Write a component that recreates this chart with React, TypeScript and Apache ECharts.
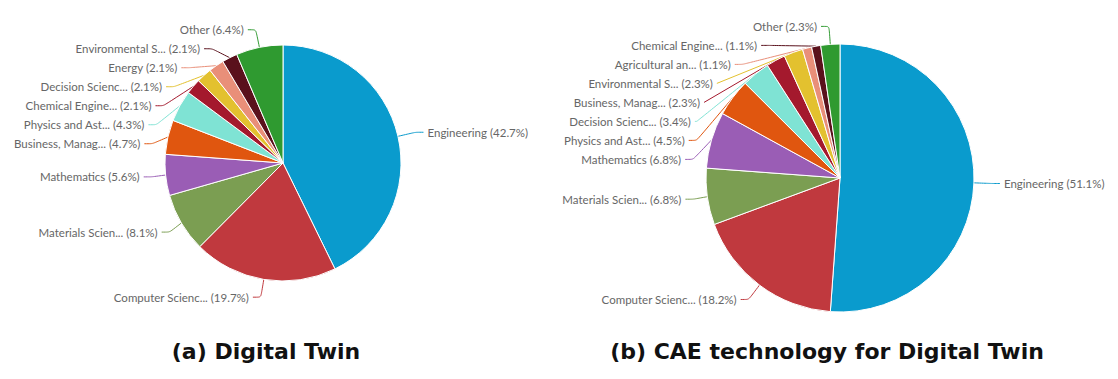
import React, { useEffect, useRef } from "react";
import * as echarts from "echarts";

const leftNames = [
  "Engineering",
  "Computer Scienc...",
  "Materials Scien...",
  "Mathematics",
  "Business, Manag...",
  "Physics and Ast...",
  "Chemical Engine...",
  "Decision Scienc...",
  "Energy",
  "Environmental S...",
  "Other",
];
const leftValues = [42.7, 19.7, 8.1, 5.6, 4.7, 4.3, 2.1, 2.1, 2.1, 2.1, 6.4];

const rightNames = [
  "Engineering",
  "Computer Scienc...",
  "Materials Scien...",
  "Mathematics",
  "Physics and Ast...",
  "Decision Scienc...",
  "Business, Manag...",
  "Environmental S...",
  "Agricultural an...",
  "Chemical Engine...",
  "Other",
];
const rightValues = [51.1, 18.2, 6.8, 6.8, 4.5, 3.4, 2.3, 2.3, 1.1, 1.1, 2.3];

const palette = [
  "#0a9bcd",
  "#c0393e",
  "#7b9e52",
  "#9a5db5",
  "#e0560f",
  "#7fe3d4",
  "#a4192d",
  "#e3c12f",
  "#e98f79",
  "#5a111c",
  "#2f9a30",
];

const titles = ["(a) Digital Twin", "(b) CAE technology for Digital Twin"];

function makeSeries(names: string[], values: number[], center: [number, number], radius: number) {
  return {
    type: "pie",
    center,
    radius,
    startAngle: 90,
    clockwise: true,
    avoidLabelOverlap: true,
    labelLayout: { hideOverlap: false },
    data: names.map((n, i) => ({
      name: n,
      value: values[i],
      itemStyle: { color: palette[i % palette.length] },
      labelLine: { lineStyle: { color: palette[i % palette.length] } },
    })),
    itemStyle: { borderColor: "#ffffff", borderWidth: 1 },
    label: {
      formatter: (p: any) => `${p.name} (${p.value.toFixed(1)}%)`,
      fontFamily: "Lato",
      fontSize: 11.5,
      color: "#666666",
      lineHeight: 17,
      overflow: "none",
      distanceToLabelLine: 4,
    },
    labelLine: { show: true, length: 18, length2: 8, smooth: 0.2, lineStyle: { width: 1 } },
  };
}

export default function App() {
  const ref = useRef<HTMLDivElement>(null);
  useEffect(() => {
    if (!ref.current) return;
    const chart = echarts.init(ref.current, undefined, { renderer: "svg" });
    const titleStyle = { fontFamily: "DejaVu Sans", fontWeight: "bold", fontSize: 22, color: "#111" };
    chart.setOption({
      animation: false,
      backgroundColor: "#ffffff",
      title: [
        { text: titles[0], left: 261, top: 335, textAlign: "center", textStyle: titleStyle },
        { text: titles[1], left: 822, top: 335, textAlign: "center", textStyle: titleStyle },
      ],
      series: [
        makeSeries(leftNames, leftValues, [283, 163], 118),
        makeSeries(rightNames, rightValues, [840, 178], 134),
      ],
    });
    return () => chart.dispose();
  }, []);
  return (
    <div
      ref={ref}
      style={{ position: "fixed", left: 0, top: 0, width: 1118, height: 379, background: "#fff" }}
    />
  );
}
